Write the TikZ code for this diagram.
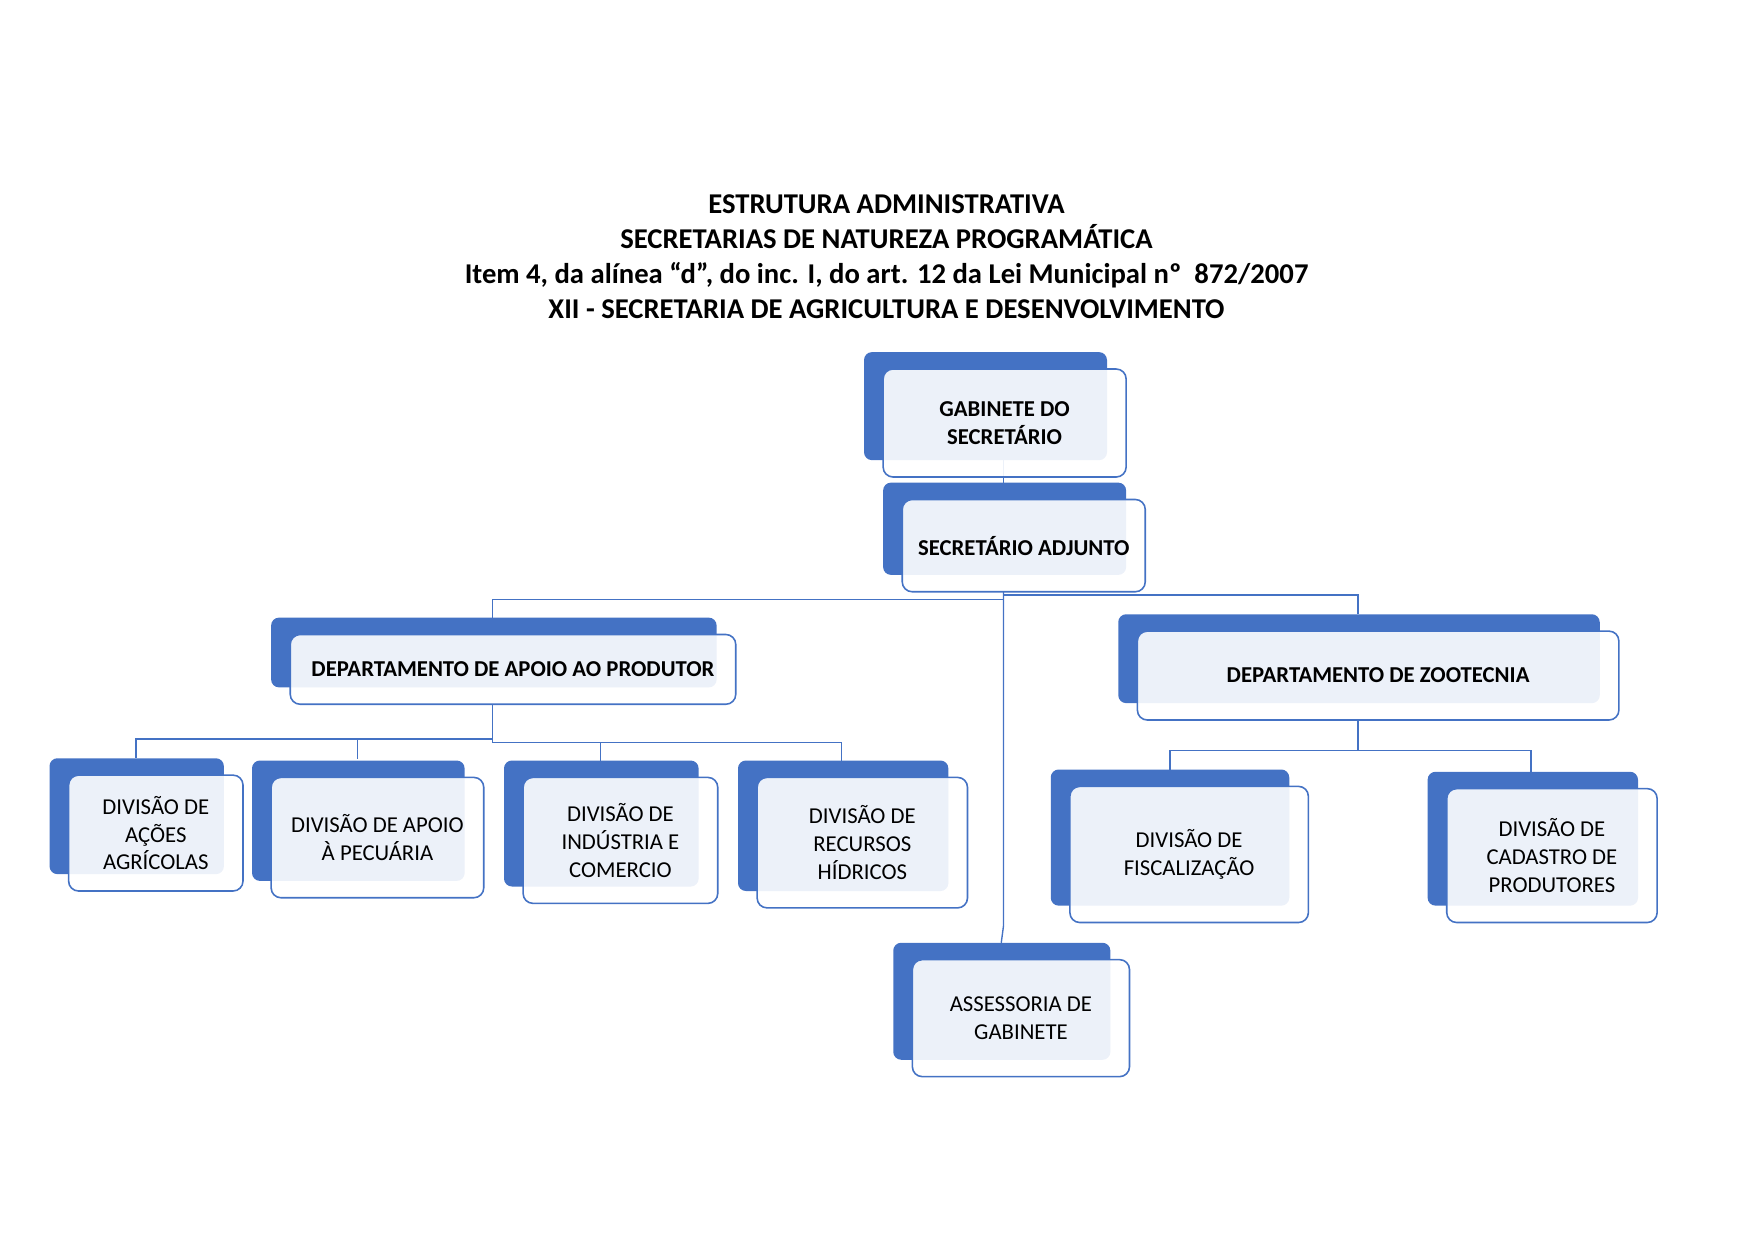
\documentclass[tikz,border=0pt]{standalone}
\usepackage{fontspec}
\setmainfont{Carlito}
\definecolor{bl}{HTML}{4472C4}
\begin{document}
\begin{tikzpicture}[x=0.02cm,y=-0.02cm,
  back/.style={fill=bl,rounded corners=4pt},
  front/.style={draw=bl,fill=white,fill opacity=0.9,rounded corners=5pt,line width=0.8pt},
  lbl/.style={align=center,font=\fontsize{11.5}{14}\selectfont,text=black},
  con/.style={draw=bl,line width=0.7pt}]
\useasboundingbox (0,0) rectangle (1560,1103);
\newcommand\ob[6]{%
  \fill[back] (#2-17,#3-15) rectangle (#4-17,#5-15);
  \path[front] (#2,#3) rectangle (#4,#5);
  \node[lbl] (#1) at ({(#2+#4)/2},{(#3+#5)/2+0.5*(#5-#3)*0}) {#6};}
\node[align=center,font=\bfseries\fontsize{14.5}{17.8}\selectfont] (title) at (788,228)
 {ESTRUTURA ADMINISTRATIVA\\SECRETARIAS DE NATUREZA PROGRAMÁTICA\\Item 4, da alínea “d”, do inc. I, do art. 12 da Lei Municipal nº\ \ 872/2007\\XII - SECRETARIA DE AGRICULTURA E DESENVOLVIMENTO};
% connectors first
\coordinate (gb) at (892,407); \coordinate (at) at (892,429);
\coordinate (ab) at (892,526);
\coordinate (dat) at (438,549); \coordinate (dzt) at (1207,546);
\coordinate (ast) at (890,838);
\coordinate (dab) at (438,626); \coordinate (dzb) at (1207,640);
\coordinate (d1) at (121,674); \coordinate (d2) at (318,675);
\coordinate (d3) at (534,676); \coordinate (d4) at (748,676);
\coordinate (z1) at (1040,684); \coordinate (z2) at (1361,686);
\draw[con] (gb) -- (at);
\draw[con] (ab) -- (892,533) -| (dat);
\draw[con] (ab) -- (892,529) -| (dzt);
\draw[con] (ab) -- (892,823) -- (ast);
\draw[con] (dab) -- (438,657) -| (d1);
\draw[con] (438,657) -| (d2);
\draw[con] (dab) -- (438,660) -| (d3);
\draw[con] (438,660) -| (d4);
\draw[con] (dzb) -- (1207,667) -| (z1);
\draw[con] (1207,667) -| (z2);
% boxes
\ob{gab}{785}{328}{1001}{424}{\bfseries GABINETE DO\\\bfseries SECRETÁRIO}
\ob{adj}{802}{444}{1018}{526}{\bfseries SECRETÁRIO ADJUNTO}
\ob{dap}{258}{564}{654}{626}{\bfseries DEPARTAMENTO DE APOIO AO PRODUTOR}
\ob{dzo}{1011}{561}{1439}{640}{\bfseries DEPARTAMENTO DE ZOOTECNIA}
\ob{da1}{61}{689}{216}{792}{DIVISÃO DE\\AÇÕES\\AGRÍCOLAS}
\ob{da2}{241}{691}{430}{798}{DIVISÃO DE APOIO\\À PECUÁRIA}
\ob{da3}{465}{691}{638}{803}{DIVISÃO DE\\INDÚSTRIA E\\COMERCIO}
\ob{da4}{673}{691}{860}{807}{DIVISÃO DE\\RECURSOS\\HÍDRICOS}
\ob{ass}{811}{853}{1004}{957}{ASSESSORIA DE\\GABINETE}
\ob{dz1}{951}{699}{1163}{820}{DIVISÃO DE\\FISCALIZAÇÃO}
\ob{dz2}{1286}{701}{1473}{820}{DIVISÃO DE\\CADASTRO DE\\PRODUTORES}
\end{tikzpicture}
\end{document}
